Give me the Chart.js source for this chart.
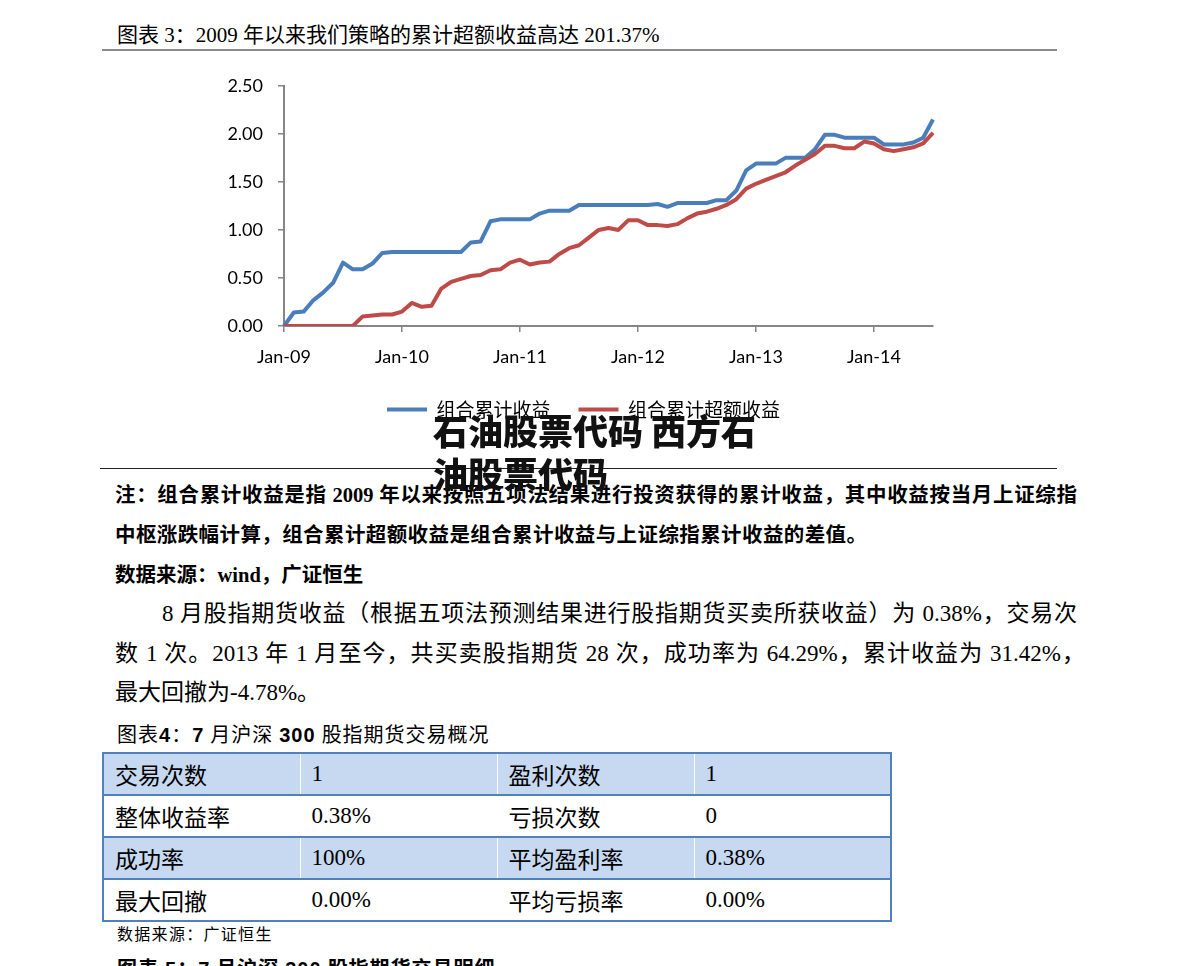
<!DOCTYPE html>
<html><head><meta charset="utf-8">
<script src="https://cdn.jsdelivr.net/npm/chart.js@4/dist/chart.umd.min.js"></script>
<style>
body{margin:0;background:#fff;width:1191px;height:966px;overflow:hidden;position:relative;font-family:"Liberation Serif","Noto Sans CJK SC",serif;color:#000}
.a{position:absolute;white-space:nowrap}
.j{position:absolute;text-align:justify;text-align-last:justify;white-space:nowrap}
.sans{font-family:"Liberation Sans","Noto Sans CJK SC",sans-serif}
#wrap{position:absolute;left:220px;top:60px;width:730px;height:369px}
.t{position:absolute;left:102px;top:752px;width:788px;border-collapse:collapse;table-layout:fixed}
.t td{height:40px;padding:0 0 0 11px;border-top:2px solid #4f81bd;border-bottom:2px solid #4f81bd;border-left:1px solid #fff;border-right:1px solid #fff;font-family:"Noto Sans CJK SC",sans-serif;font-size:23px;vertical-align:middle;line-height:40px;white-space:nowrap}
.t td.n{font-family:"Liberation Serif",serif;font-size:23px}
.t tr.b td{background:#c6d9f1}
.t td:first-child{border-left:2px solid #4f81bd}
.t td:last-child{border-right:2px solid #4f81bd}
.wm{position:absolute;left:433px;top:408px;width:345px;font-family:"Noto Sans CJK SC",sans-serif;font-weight:900;font-size:35px;line-height:43px;color:#111;z-index:10}
</style></head><body>

<div class="a" style="left:117px;top:20px;font-size:21px;line-height:30px">图表 3：2009 年以来我们策略的累计超额收益高达 201.37%</div>
<div class="a" style="left:102px;top:49px;width:955px;height:2px;background:#8a8a8a"></div>

<div id="wrap"><canvas id="c"></canvas></div>

<div class="wm">石油股票代码 西方石油股票代码</div>

<div class="a" style="left:100px;top:468px;width:957px;height:1px;background:#222"></div>

<div class="j" style="left:115px;top:480px;width:962px;font-size:20.5px;line-height:30px;font-weight:bold">注：组合累计收益是指 2009 年以来按照五项法结果进行投资获得的累计收益，其中收益按当月上证综指</div>
<div class="a" style="left:115px;top:520px;font-size:20.5px;line-height:30px;font-weight:bold;letter-spacing:0.4px">中枢涨跌幅计算，组合累计超额收益是组合累计收益与上证综指累计收益的差值。</div>
<div class="a" style="left:115px;top:560px;font-size:20.5px;line-height:30px;font-weight:bold">数据来源：wind，广证恒生</div>

<div class="j" style="left:162px;top:598px;width:915px;font-size:23px;line-height:32px">8 月股指期货收益（根据五项法预测结果进行股指期货买卖所获收益）为 0.38%，交易次</div>
<div class="j" style="left:115px;top:638px;width:970px;font-size:23px;line-height:32px">数 1 次。2013 年 1 月至今，共买卖股指期货 28 次，成功率为 64.29%，累计收益为 31.42%，</div>
<div class="a" style="left:115px;top:677px;font-size:23px;line-height:32px">最大回撤为-4.78%。</div>

<div class="a" style="left:117px;top:721px;font-size:20px;line-height:28px;letter-spacing:1px">图表<b class="sans">4</b>：<b class="sans">7</b> 月沪深 <b class="sans">300</b> 股指期货交易概况</div>

<table class="t">
<colgroup><col style="width:197px"><col style="width:197px"><col style="width:197px"><col style="width:197px"></colgroup>
<tr class="b"><td>交易次数</td><td class="n">1</td><td>盈利次数</td><td class="n">1</td></tr>
<tr><td>整体收益率</td><td class="n">0.38%</td><td>亏损次数</td><td class="n">0</td></tr>
<tr class="b"><td>成功率</td><td class="n">100%</td><td>平均盈利率</td><td class="n">0.38%</td></tr>
<tr><td>最大回撤</td><td class="n">0.00%</td><td>平均亏损率</td><td class="n">0.00%</td></tr>
</table>

<div class="a" style="left:117px;top:923px;font-size:16px;line-height:24px;letter-spacing:1.3px">数据来源：广证恒生</div>
<div class="a" style="left:117px;top:955px;font-size:20px;line-height:28px;font-weight:bold;letter-spacing:1px">图表 <span class="sans">5</span>：<span class="sans">7</span> 月沪深 <span class="sans">300</span> 股指期货交易明细</div>

<script>
const months = [
 'Jan-09','Feb-09','Mar-09','Apr-09','May-09','Jun-09','Jul-09','Aug-09','Sep-09','Oct-09','Nov-09','Dec-09',
 'Jan-10','Feb-10','Mar-10','Apr-10','May-10','Jun-10','Jul-10','Aug-10','Sep-10','Oct-10','Nov-10','Dec-10',
 'Jan-11','Feb-11','Mar-11','Apr-11','May-11','Jun-11','Jul-11','Aug-11','Sep-11','Oct-11','Nov-11','Dec-11',
 'Jan-12','Feb-12','Mar-12','Apr-12','May-12','Jun-12','Jul-12','Aug-12','Sep-12','Oct-12','Nov-12','Dec-12',
 'Jan-13','Feb-13','Mar-13','Apr-13','May-13','Jun-13','Jul-13','Aug-13','Sep-13','Oct-13','Nov-13','Dec-13',
 'Jan-14','Feb-14','Mar-14','Apr-14','May-14','Jun-14','Jul-14'
];
const seriesNames = ['组合累计收益', '组合累计超额收益'];
const portfolioCum = [
 0.00,0.14,0.15,0.27,0.35,0.45,0.66,0.59,0.59,0.65,0.76,0.77,
 0.77,0.77,0.77,0.77,0.77,0.77,0.77,0.87,0.88,1.09,1.11,1.11,
 1.11,1.11,1.17,1.20,1.20,1.20,1.26,1.26,1.26,1.26,1.26,1.26,
 1.26,1.26,1.27,1.24,1.28,1.28,1.28,1.28,1.31,1.31,1.41,1.62,
 1.69,1.69,1.69,1.75,1.75,1.75,1.84,1.99,1.99,1.96,1.96,1.96,
 1.96,1.89,1.89,1.89,1.91,1.96,2.15
];
const portfolioExcess = [
 0.00,0.00,0.00,0.00,0.00,0.00,0.00,0.00,0.10,0.11,0.12,0.12,
 0.15,0.24,0.20,0.21,0.39,0.46,0.49,0.52,0.53,0.58,0.59,0.66,
 0.69,0.64,0.66,0.67,0.75,0.81,0.84,0.92,1.00,1.02,1.00,1.10,
 1.10,1.05,1.05,1.04,1.06,1.12,1.17,1.19,1.22,1.26,1.32,1.43,
 1.48,1.52,1.56,1.60,1.67,1.73,1.79,1.875,1.875,1.85,1.85,1.92,
 1.90,1.84,1.82,1.84,1.86,1.90,2.01
];
const yMin = 0, yMax = 2.5, yStep = 0.5;
const axisGray = '#868686';

const isJan = (i) => months[i] && months[i].startsWith('Jan');

const legendShift = {
  id: 'legendShift',
  afterLayout(chart) { if (chart.legend) { chart.legend.left += 14; } }
};

new Chart(document.getElementById('c'), {
  type: 'line',
  data: {
    labels: months,
    datasets: [
      {label: seriesNames[0], data: portfolioCum, borderColor: '#4a7ebb', backgroundColor: '#4a7ebb',
       borderWidth: 4, pointRadius: 0, tension: 0, order: 1, borderJoinStyle: 'round'},
      {label: seriesNames[1], data: portfolioExcess, borderColor: '#be4b48', backgroundColor: '#be4b48',
       borderWidth: 4, pointRadius: 0, tension: 0, order: 0, borderJoinStyle: 'round'}
    ]
  },
  plugins: [legendShift],
  options: {
    responsive: true, maintainAspectRatio: false, animation: false,
    layout: {padding: {left: 0, right: 17, top: 24, bottom: 0}},
    plugins: {
      tooltip: {enabled: false},
      legend: {
        position: 'bottom',
        labels: {
          boxWidth: 40, boxHeight: 4, padding: 28, color: '#000',
          font: {family: '"Noto Sans CJK SC"', size: 19},
          sort: (a, b) => a.datasetIndex - b.datasetIndex,
          generateLabels: (chart) => {
            const items = Chart.defaults.plugins.legend.labels.generateLabels(chart);
            items.forEach(it => { it.lineWidth = 0; });
            return items;
          }
        }
      }
    },
    scales: {
      x: {
        type: 'category', offset: false,
        grid: {drawOnChartArea: false, drawTicks: true, tickLength: 6, lineWidth: 1.5,
               color: (c) => isJan(c.index) ? axisGray : 'rgba(0,0,0,0)'},
        border: {color: axisGray, width: 2},
        ticks: {autoSkip: false, maxRotation: 0, minRotation: 0, padding: 14, color: '#000',
                font: {family: 'Lato', size: 18},
                callback: (v, i) => isJan(i) ? months[i] : ''},
        afterFit: (s) => { s.height = 46; }
      },
      y: {
        min: yMin, max: yMax,
        grid: {drawOnChartArea: false, drawTicks: true, tickLength: 6, lineWidth: 1.5, color: axisGray},
        border: {color: axisGray, width: 2},
        ticks: {stepSize: yStep, padding: 15, color: '#000', font: {family: 'Lato', size: 18},
                callback: (v) => Number(v).toFixed(2)},
        afterFit: (s) => { s.width = 64; }
      }
    }
  }
});
</script>
</body></html>
